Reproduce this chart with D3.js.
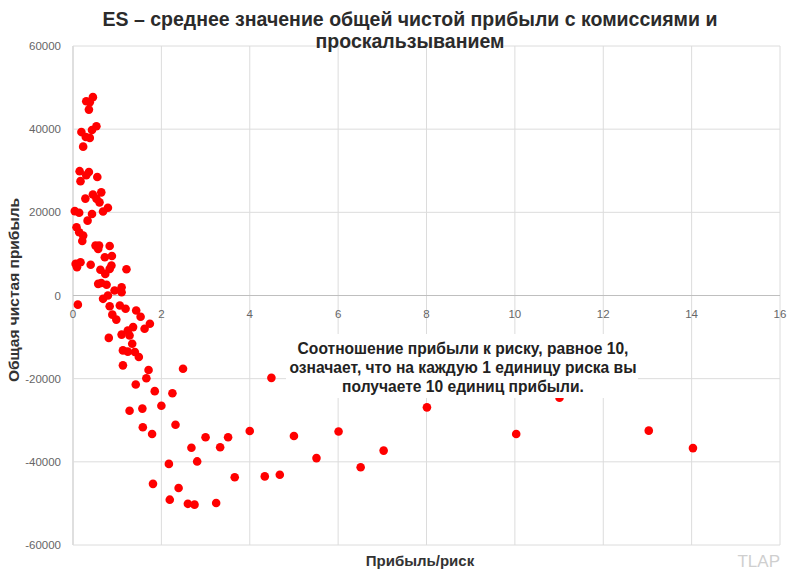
<!DOCTYPE html>
<html>
<head>
<meta charset="utf-8">
<script src="https://cdn.jsdelivr.net/npm/d3@7"></script>
<style>
  body { margin: 0; background: #fff; }
  svg { display: block; font-family: "Liberation Sans", Arial, sans-serif; }
</style>
</head>
<body>
<div id="chart"></div>
<script>
// profit/risk ratio for each run
const ratio = [
  0.45, 0.30, 0.38, 0.36, 0.53, 0.43, 0.19, 0.29, 0.38, 0.23,
  0.15, 0.36, 0.30, 0.55, 0.17, 0.64, 0.45, 0.53, 0.60, 0.28,
  0.79, 0.68, 0.04, 0.14, 0.43, 0.33, 0.08, 0.14, 0.23, 0.21,
  0.51, 0.59, 0.57, 0.83, 0.72, 0.88, 0.06, 0.17, 0.09, 0.40,
  0.87, 0.62, 1.21, 0.73, 0.83, 0.57, 0.64, 0.76, 1.10, 0.94,
  1.10, 0.79, 0.68, 0.11, 0.83, 1.06, 1.19, 1.43, 1.53, 0.89,
  0.98, 1.74, 1.62, 1.36, 1.24, 1.10, 1.28, 0.81, 1.34, 1.13,
  1.24, 1.40, 1.49, 1.13, 1.71, 2.49, 1.66, 1.42, 1.85, 2.25,
  2.00, 1.57, 1.28, 4.49, 2.32, 1.58, 1.79, 4.00, 3.00, 3.51,
  5.00, 2.68, 3.33, 2.81, 2.17, 3.66, 4.34, 4.68, 1.81, 2.39,
  2.19, 2.60, 2.75, 3.24, 5.51, 6.01, 6.51, 7.03, 8.01, 10.03,
  11.01, 13.03, 14.03
]
// total net profit for each run
const profit = [
  47700, 46700, 46500, 44700, 40700, 39800, 39300, 38100, 37900, 35800,
  29900, 29700, 28900, 28500, 27500, 24800, 24300, 23300, 22400, 23300,
  21100, 20200, 20300, 19900, 19600, 18000, 16400, 15200, 14400, 13100,
  12000, 12000, 11200, 11900, 9200, 9500, 7600, 8000, 6800, 7400,
  7200, 6200, 6300, 5200, 6400, 2800, 3000, 2600, 2000, 1200,
  800, 0, -800, -2200, -2600, -2400, -3200, -3600, -5100, -4600,
  -5800, -6800, -8000, -7600, -8400, -9400, -9600, -10200, -11600, -13200,
  -13500, -13600, -14800, -16800, -17900, -17600, -19900, -21400, -23000, -23500,
  -26500, -27200, -27700, -19800, -31100, -31700, -33300, -32600, -34100, -34100,
  -33800, -36600, -36500, -39900, -40500, -43700, -43500, -43100, -45300, -46300,
  -49100, -50100, -50300, -49900, -39100, -32700, -41300, -37300, -26900, -33300,
  -24600, -32500, -36700
]
const xTicks = [0, 2, 4, 6, 8, 10, 12, 14, 16]
const yTicks = [-60000, -40000, -20000, 0, 20000, 40000, 60000]

const titleLines = ['ES – среднее значение общей чистой прибыли с комиссиями и', 'проскальзыванием']
const noteLines = ['Соотношение прибыли к риску, равное 10,', 'означает, что на каждую 1 единицу риска вы', 'получаете 10 единиц прибыли.']

const width = 797
const height = 575
const margin = { top: 46, right: 17, bottom: 30, left: 73 }

const svg = d3.select('#chart')
  .append('svg')
  .attr('width', width)
  .attr('height', height)

const x = d3.scaleLinear().domain([0, 16]).range([margin.left, width - margin.right])
const y = d3.scaleLinear().domain([-60000, 60000]).range([height - margin.bottom, margin.top])

// grid
svg.append('g')
  .selectAll('line')
  .data(xTicks)
  .join('line')
  .attr('x1', d => x(d)).attr('x2', d => x(d))
  .attr('y1', y(60000)).attr('y2', y(-60000))
  .attr('stroke', d => d === 0 ? '#bfbfbf' : '#dcdcdc')

svg.append('g')
  .selectAll('line')
  .data(yTicks)
  .join('line')
  .attr('x1', x(0)).attr('x2', x(16))
  .attr('y1', d => y(d)).attr('y2', d => y(d))
  .attr('stroke', d => d === 0 ? '#bfbfbf' : '#dcdcdc')

// tick labels
svg.append('g')
  .selectAll('text')
  .data(yTicks)
  .join('text')
  .attr('x', x(0) - 12)
  .attr('y', d => y(d) + 4)
  .attr('text-anchor', 'end')
  .attr('font-size', 11.5)
  .attr('fill', '#666')
  .text(d => d)

svg.append('g')
  .selectAll('text')
  .data(xTicks)
  .join('text')
  .attr('x', d => x(d))
  .attr('y', y(0) + 22)
  .attr('text-anchor', 'middle')
  .attr('font-size', 11.5)
  .attr('fill', '#666')
  .text(d => d)

// points
svg.append('g')
  .selectAll('circle')
  .data(ratio.map((r, i) => [r, profit[i]]))
  .join('circle')
  .attr('cx', d => x(d[0]))
  .attr('cy', d => y(d[1]))
  .attr('r', 4.3)
  .attr('fill', '#ff0000')

// note box
const note = svg.append('g')
note.append('rect')
  .attr('x', 286).attr('y', 334)
  .attr('width', 352).attr('height', 64)
  .attr('fill', '#fff')
note.selectAll('text')
  .data(noteLines)
  .join('text')
  .attr('x', 463)
  .attr('y', (d, i) => 354 + i * 19)
  .attr('text-anchor', 'middle')
  .attr('font-size', 15.6)
  .attr('font-weight', 'bold')
  .attr('fill', '#222')
  .text(d => d)

// title
svg.append('g')
  .selectAll('text')
  .data(titleLines)
  .join('text')
  .attr('x', 410)
  .attr('y', (d, i) => 26 + i * 22)
  .attr('text-anchor', 'middle')
  .attr('font-size', 19.5)
  .attr('font-weight', 'bold')
  .attr('fill', '#2b2b2b')
  .text(d => d)

// axis titles
svg.append('text')
  .attr('x', 420)
  .attr('y', 566)
  .attr('text-anchor', 'middle')
  .attr('font-size', 15)
  .attr('font-weight', 'bold')
  .attr('fill', '#333')
  .text('Прибыль/риск')

svg.append('text')
  .attr('transform', 'translate(19, 290) rotate(-90)')
  .attr('text-anchor', 'middle')
  .attr('font-size', 15.5)
  .attr('font-weight', 'bold')
  .attr('fill', '#333')
  .text('Общая чистая прибыль')

svg.append('text')
  .attr('x', 780)
  .attr('y', 567)
  .attr('text-anchor', 'end')
  .attr('font-size', 17)
  .attr('fill', '#cfcfcf')
  .text('TLAP')
</script>
</body>
</html>
